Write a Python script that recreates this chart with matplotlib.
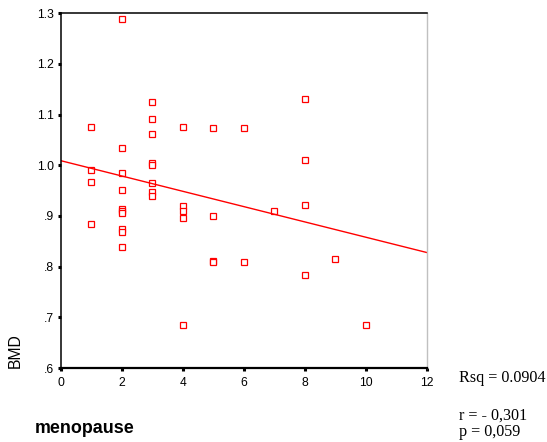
import numpy as np
import matplotlib
matplotlib.use("Agg")
import matplotlib.pyplot as plt

# menopause (years) vs BMD
menopause = [1, 1, 1, 1,
             2, 2, 2, 2, 2, 2, 2, 2, 2, 2,
             3, 3, 3, 3, 3, 3, 3, 3,
             4, 4, 4, 4, 4,
             5, 5, 5, 5,
             6, 6,
             7,
             8, 8, 8, 8,
             9,
             10]
bmd = [1.076, 0.990, 0.967, 0.885,
       1.288, 1.034, 0.984, 0.951, 0.913, 0.910, 0.905, 0.875, 0.868, 0.839,
       1.125, 1.092, 1.062, 1.005, 1.000, 0.965, 0.947, 0.940,
       1.076, 0.920, 0.910, 0.896, 0.684,
       1.074, 0.899, 0.811, 0.809,
       1.074, 0.809,
       0.910,
       1.131, 1.011, 0.922, 0.783,
       0.815,
       0.684]

# fit line
fit_intercept = 1.009
fit_slope = -0.0151

yticks = [0.6, 0.7, 0.8, 0.9, 1.0, 1.1, 1.2, 1.3]
ytick_labels = [".6", ".7", ".8", ".9", "1.0", "1.1", "1.2", "1.3"]
xticks = [0, 2, 4, 6, 8, 10, 12]

plt.rcParams['font.family'] = ['Liberation Sans', 'DejaVu Sans']

fig = plt.figure(figsize=(5.47, 4.42), dpi=100)
ax = fig.add_axes([0.1115, 0.1674, 0.6691, 0.8026])

ax.plot(menopause, bmd, linestyle="none", marker="s", markersize=4.4,
        markerfacecolor="white", markeredgecolor="red", markeredgewidth=0.9)

xl = np.array([0, 12])
ax.plot(xl, fit_intercept + fit_slope * xl, color="red", linewidth=1.0)

ax.set_xlim(0, 12)
ax.set_ylim(0.6, 1.3)
ax.set_xticks(xticks)
ax.set_yticks(yticks)
ax.set_yticklabels(ytick_labels)
ax.tick_params(direction="out", length=2.5, width=2.2, labelsize=8.7, pad=2.5,
               colors="black")
ax.tick_params(axis="x", pad=4)

for s in ["left", "top"]:
    ax.spines[s].set_linewidth(1.1)
ax.spines["bottom"].set_linewidth(1.6)
ax.spines["right"].set_color("#c0c0c0")
ax.spines["right"].set_linewidth(1.0)

fig.text(0.027, 0.168, "BMD", rotation=90, fontsize=11.3, ha="center", va="bottom")
fig.text(0.063, 0.021, "menopause", fontsize=12.9, fontweight="bold", ha="left", va="baseline")

serif = ["Liberation Serif", "DejaVu Serif"]
fig.text(0.839, 0.136, "Rsq = 0.0904", fontsize=11.6, family=serif,
         ha="left", va="baseline")
fig.text(0.839, 0.050, "r = - 0,301", fontsize=11.6, family=serif,
         ha="left", va="baseline")
fig.text(0.839, 0.013, "p = 0,059", fontsize=11.6, family=serif,
         ha="left", va="baseline")

fig.savefig("out.png", dpi=100)
